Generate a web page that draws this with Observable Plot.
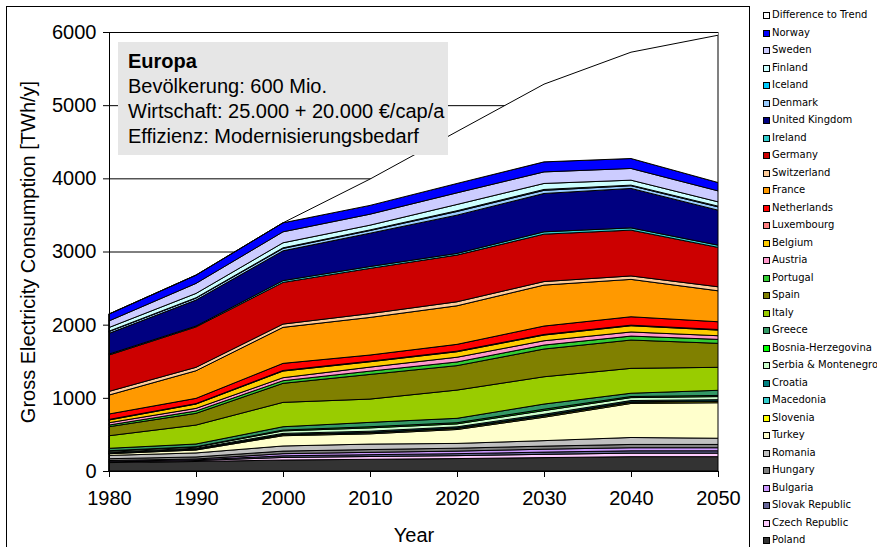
<!DOCTYPE html>
<html><head><meta charset="utf-8">
<script src="https://cdn.jsdelivr.net/npm/d3@7"></script>
<script src="https://cdn.jsdelivr.net/npm/@observablehq/plot@0.6"></script>
<style>
html,body{margin:0;padding:0;background:#fff;}
#page{position:relative;width:877px;height:547px;overflow:hidden;background:#fff;}
#chart{position:absolute;left:0;top:0;}
#chart svg{background:none;overflow:visible;}
#chart svg text{font-family:"Liberation Sans",Arial,sans-serif;font-size:20px;fill:#000;}
#frame{position:absolute;left:6px;top:6px;width:744px;height:600px;border:1px solid #000;box-sizing:border-box;pointer-events:none;}
#note{position:absolute;left:118px;top:42px;width:330px;height:113px;background:#e6e6e6;box-sizing:border-box;padding:7px 0 0 10px;font-family:"Liberation Sans",Arial,sans-serif;font-size:20px;line-height:25px;color:#000;white-space:nowrap;}
#note b{font-weight:bold;}
.lrow{position:absolute;left:763px;height:12px;line-height:12px;font-family:"DejaVu Sans",Verdana,sans-serif;font-size:10px;color:#000;white-space:nowrap;}
.lsw{position:absolute;left:0;top:3px;width:7px;height:7px;border:1px solid #000;box-sizing:border-box;}
.ltx{position:absolute;left:9px;top:0;}
</style>
</head><body>
<div id="page">
  <div id="chart"></div>
  <div id="note"><b>Europa</b><br>Bevölkerung: 600 Mio.<br>Wirtschaft: 25.000 + 20.000 €/cap/a<br>Effizienz: Modernisierungsbedarf</div>
  <div id="legend"></div>
  <div id="frame"></div>
</div>
<script>
const years = [1980, 1990, 2000, 2010, 2020, 2030, 2040, 2050];
const yTicks = [0, 1000, 2000, 3000, 4000, 5000, 6000];

// TWh/y per country, stacked bottom (Poland) to top (Norway)
const poland      = [115, 130, 150, 160, 170, 183, 196, 196];
const czech       = [10, 12, 35, 38, 40, 45, 48, 48];
const slovak      = [8, 10, 22, 25, 27, 30, 32, 32];
const bulgaria    = [10, 12, 30, 32, 35, 40, 42, 42];
const hungary     = [25, 28, 35, 38, 40, 42, 45, 45];
const romania     = [45, 55, 70, 75, 65, 75, 95, 85];
const turkey      = [23, 40, 140, 140, 190, 320, 465, 485];
const slovenia    = [7, 8, 12, 13, 14, 15, 15, 16];
const macedonia   = [4, 5, 6, 7, 7, 8, 8, 8];
const croatia     = [10, 11, 14, 16, 16, 18, 17, 18];
const serbia      = [15, 16, 34, 45, 40, 50, 40, 42];
const bosnia      = [5, 5, 12, 16, 16, 19, 15, 16];
const greece      = [33, 37, 45, 60, 60, 70, 45, 70];
const italy       = [172, 259, 333, 318, 386, 373, 340, 314];
const spain       = [123, 160, 260, 337, 334, 379, 387, 328];
const portugal    = [23, 32, 36, 45, 50, 54, 54, 54];
const austria     = [32, 36, 41, 55, 65, 59, 56, 50];
const belgium     = [37, 59, 91, 73, 75, 78, 85, 77];
const luxembourg  = [8, 6, 8, 8, 8, 8, 8, 8];
const netherlands = [74, 72, 97, 84, 93, 115, 115, 106];
const france      = [259, 377, 492, 514, 527, 560, 511, 423];
const switzerland = [50, 47, 45, 52, 55, 48, 47, 55];
const germany     = [497, 552, 569, 618, 638, 648, 626, 538];
const ireland     = [13, 12, 25, 26, 23, 32, 31, 31];
const uk          = [283, 355, 407, 455, 523, 524, 539, 478];
const denmark     = [25, 27, 33, 37, 50, 43, 37, 45];
const iceland     = [5, 5, 8, 8, 10, 12, 8, 10];
const finland     = [50, 59, 69, 65, 86, 82, 68, 59];
const sweden      = [90, 137, 150, 150, 159, 158, 160, 150];
const norway      = [94, 113, 123, 120, 128, 137, 136, 114];
const difference  = [0, 0, 0, 360, 710, 1062, 1453, 2013];

const seriesNames = ["Poland","Czech Republic","Slovak Republic","Bulgaria","Hungary","Romania","Turkey","Slovenia","Macedonia","Croatia","Serbia & Montenegro","Bosnia-Herzegovina","Greece","Italy","Spain","Portugal","Austria","Belgium","Luxembourg","Netherlands","France","Switzerland","Germany","Ireland","United Kingdom","Denmark","Iceland","Finland","Sweden","Norway","Difference to Trend"];
const seriesValues = [poland,czech,slovak,bulgaria,hungary,romania,turkey,slovenia,macedonia,croatia,serbia,bosnia,greece,italy,spain,portugal,austria,belgium,luxembourg,netherlands,france,switzerland,germany,ireland,uk,denmark,iceland,finland,sweden,norway,difference];
const seriesColors = ["#333333","#FFCCFF","#666699","#CC99FF","#808080","#C0C0C0","#FFFFCC","#FFFF00","#33CCCC","#008080","#CCFFCC","#00FF00","#339966","#99CC00","#808000","#33CC33","#FF99CC","#FFCC00","#FF8080","#FF0000","#FF9900","#FFCC99","#CC0000","#33CCCC","#000080","#99CCFF","#00CCFF","#CCFFFF","#CCCCFF","#0000FF","#FFFFFF"];

const rows = seriesNames.flatMap((name, i) => years.map((year, j) => ({series: name, year, value: seriesValues[i][j]})));

const chart = Plot.plot({
  width: 750,
  height: 547,
  marginLeft: 109,
  marginRight: 32,
  marginTop: 32,
  marginBottom: 76,
  style: {background: "none", fontFamily: "Liberation Sans, Arial, sans-serif", fontSize: "20px", overflow: "visible"},
  x: {domain: [1980, 2050], ticks: years, tickFormat: d => String(d), tickSize: 6, tickPadding: 13, label: null},
  y: {domain: [0, 6000], ticks: yTicks, tickFormat: d => String(d), tickSize: 6, tickPadding: 7, label: null},
  color: {domain: seriesNames, range: seriesColors},
  marks: [
    Plot.ruleY(yTicks.slice(1), {stroke: "#000", strokeWidth: 1}),
    Plot.areaY(rows, {x: "year", y: "value", z: "series", fill: "series", stroke: "#000", strokeWidth: 1, strokeLinejoin: "miter"}),
    Plot.ruleX([2050], {y1: 0, y2: 6000, stroke: "#808080", strokeWidth: 1}),
    Plot.ruleY([0], {stroke: "#000", strokeWidth: 1}),
    Plot.ruleX([1980], {y1: 0, y2: 6000, stroke: "#000", strokeWidth: 1}),
    Plot.text(["Year"], {text: d => d, frameAnchor: "bottom", dy: 64, lineAnchor: "middle"}),
    Plot.text(["Gross Electricity Consumption [TWh/y]"], {text: d => d, frameAnchor: "left", dx: -81, rotate: -90, textAnchor: "middle", lineAnchor: "middle"})
  ]
});
document.getElementById("chart").appendChild(chart);

// legend (top to bottom: reverse stacking order)
const legend = document.getElementById("legend");
const legendNames = seriesNames.slice().reverse();
const legendColors = seriesColors.slice().reverse();
legendNames.forEach((name, i) => {
  const row = document.createElement("div");
  row.className = "lrow";
  row.style.top = (15.3 + 17.5 * i - 6) + "px";
  const sw = document.createElement("span");
  sw.className = "lsw";
  sw.style.background = legendColors[i];
  const tx = document.createElement("span");
  tx.className = "ltx";
  tx.textContent = name;
  row.appendChild(sw);
  row.appendChild(tx);
  legend.appendChild(row);
});
</script>
</body></html>
